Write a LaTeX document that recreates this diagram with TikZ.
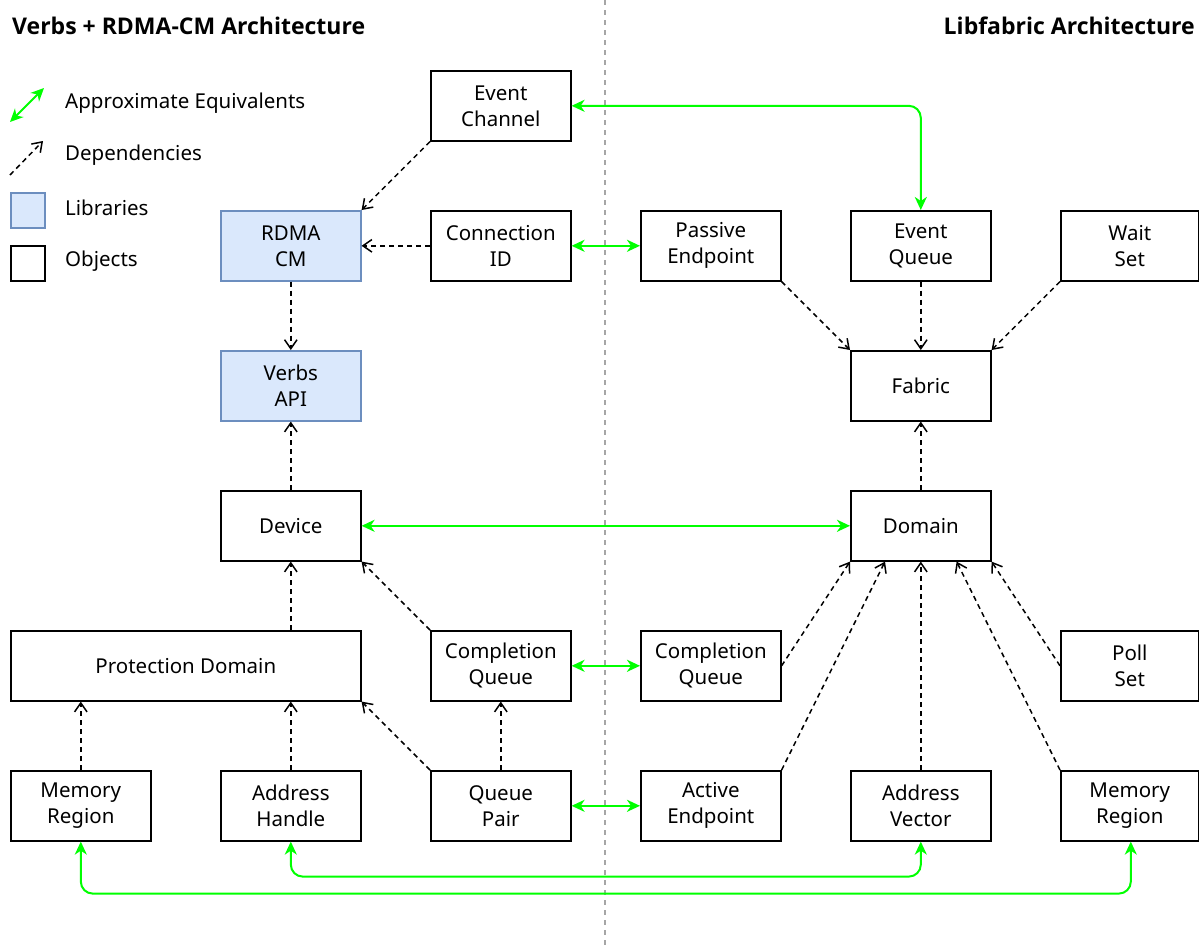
\documentclass[tikz,border=0pt]{standalone}
\usepackage{fontspec}
\setmainfont{Noto Sans}
\newfontfamily\headfont{Open Sans}
\usetikzlibrary{arrows.meta}
\definecolor{libfill}{HTML}{DAE8FC}
\definecolor{libline}{HTML}{6C8EBF}
\definecolor{equiv}{HTML}{00FF00}
\begin{document}
\begin{tikzpicture}[x=1pt,y=-1pt,
  obj/.style={draw=black,line width=1.6pt,fill=white,minimum width=140pt,minimum height=70pt,
    inner sep=0pt,align=center,font=\fontsize{20.5}{26}\selectfont,anchor=north west},
  lib/.style={obj,draw=libline,fill=libfill},
  dep/.style={draw=black,line width=1.5pt,dash pattern=on 5pt off 4pt,
    -{Straight Barb[length=9pt,width=12.5pt,line width=1.5pt]}},
  eqv/.style={draw=equiv,line width=2pt,
    {Stealth[length=13pt,width=12pt,inset=4pt]}-{Stealth[length=13pt,width=12pt,inset=4pt]}},
  title/.style={font=\headfont\fontsize{23}{26}\selectfont\bfseries,inner sep=0pt},
  legtext/.style={font=\fontsize{20.5}{24}\selectfont,anchor=west,inner sep=0pt}
]
\useasboundingbox (0,0) rectangle (1199,945);

% column divider
\draw[gray!70,line width=1.2pt,dash pattern=on 5pt off 5pt] (605,0) -- (605,945);

% headings
\node[title,anchor=west] (tl) at (12,26) {Verbs + RDMA-CM Architecture};
\node[title,anchor=east] (tr) at (1195,26) {Libfabric Architecture};

% legend
\coordinate (lga) at (10,122);
\coordinate (lgb) at (44,88);
\draw[eqv] (lga) -- (lgb);
\node[legtext] (lt1) at (65,103) {Approximate Equivalents};
\coordinate (lda) at (10,175);
\coordinate (ldb) at (43,141);
\draw[dep] (lda) -- (ldb);
\node[legtext] (lt2) at (65,155) {Dependencies};
\node[lib,minimum width=34pt,minimum height=35pt] (lglib) at (10,192) {};
\node[legtext] (lt3) at (65,208) {Libraries};
\node[obj,minimum width=34pt,minimum height=35pt] (lgobj) at (10,245) {};
\node[legtext] (lt4) at (65,261) {Objects};

% verbs + rdma-cm side
\node[obj] (ec)   at (430,70)  {Event\\Channel};
\node[lib] (rcm)  at (220,210) {RDMA\\CM};
\node[obj] (cid)  at (430,210) {Connection\\ID};
\node[lib] (vapi) at (220,350) {Verbs\\API};
\node[obj] (dev)  at (220,490) {Device};
\node[obj,minimum width=350pt] (pd) at (10,630) {Protection Domain};
\node[obj] (cql)  at (430,630) {Completion\\Queue};
\node[obj] (mrl)  at (10,770)  {Memory\\Region};
\node[obj] (ah)   at (220,770) {Address\\Handle};
\node[obj] (qp)   at (430,770) {Queue\\Pair};

% libfabric side
\node[obj] (pep)  at (640,210) {Passive\\Endpoint};
\node[obj] (evq)  at (850,210) {Event\\Queue};
\node[obj,minimum width=138pt] (ws) at (1060,210) {Wait\\Set};
\node[obj] (fab)  at (850,350) {Fabric};
\node[obj] (dom)  at (850,490) {Domain};
\node[obj] (cqr)  at (640,630) {Completion\\Queue};
\node[obj,minimum width=138pt] (ps) at (1060,630) {Poll\\Set};
\node[obj] (aep)  at (640,770) {Active\\Endpoint};
\node[obj] (av)   at (850,770) {Address\\Vector};
\node[obj,minimum width=138pt] (mrr) at (1060,770) {Memory\\Region};

% dependencies, verbs side
\draw[dep] (ec.south west) -- (rcm.north east);
\draw[dep] (cid.west) -- (rcm.east);
\draw[dep] (rcm.south) -- (vapi.north);
\draw[dep] (dev.north) -- (vapi.south);
\draw[dep] (pd.north -| dev.south) -- (dev.south);
\draw[dep] (cql.north west) -- (dev.south east);
\draw[dep] (qp.north west) -- (pd.south east);
\draw[dep] (qp.north) -- (cql.south);
\draw[dep] (mrl.north) -- (mrl.north |- pd.south);
\draw[dep] (ah.north) -- (ah.north |- pd.south);

% dependencies, libfabric side
\draw[dep] (pep.south east) -- (fab.north west);
\draw[dep] (evq.south) -- (fab.north);
\draw[dep] (ws.south west) -- (fab.north east);
\draw[dep] (dom.north) -- (fab.south);
\draw[dep] (cqr.east) -- (dom.south west);
\draw[dep] (aep.north east) -- ([xshift=35pt]dom.south west);
\draw[dep] (av.north) -- (dom.south);
\draw[dep] (mrr.north west) -- ([xshift=-35pt]dom.south east);
\draw[dep] (ps.west) -- (dom.south east);

% approximate equivalents
\draw[eqv,rounded corners=12pt] (ec.east) -| (evq.north);
\draw[eqv] (cid.east) -- (pep.west);
\draw[eqv] (dev.east) -- (dom.west);
\draw[eqv] (cql.east) -- (cqr.west);
\draw[eqv] (qp.east) -- (aep.west);
\draw[eqv,rounded corners=12pt] (ah.south) -- ++(0,35) -| (av.south);
\draw[eqv,rounded corners=12pt] (mrl.south) -- ++(0,52) -| ([xshift=1pt]mrr.south);
\end{tikzpicture}
\end{document}
